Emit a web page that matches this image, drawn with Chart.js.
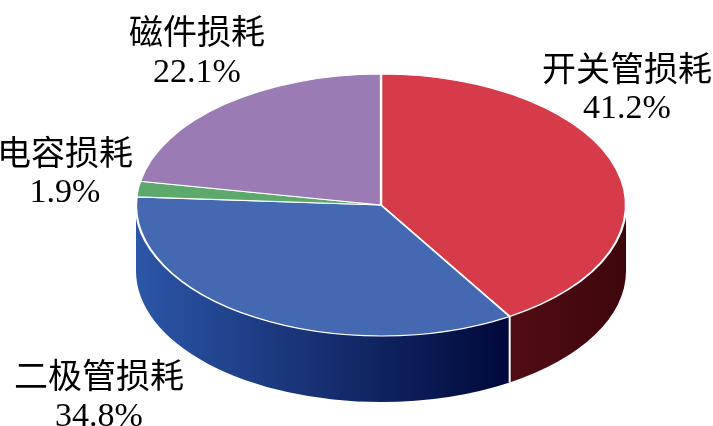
<!DOCTYPE html>
<html lang="zh">
<head>
  <meta charset="UTF-8">
  <title>损耗分布</title>
  <script src="https://cdn.jsdelivr.net/npm/chart.js"></script>
  <style>
    html, body { margin: 0; padding: 0; background: #fff; }
    #wrap { width: 713px; height: 426px; position: relative; }
  </style>
</head>
<body>
  <div id="wrap"><canvas id="pieChart"></canvas></div>

  <script>
    // 数据（顺时针，从12点方向开始）
    const categories = ['开关管损耗', '二极管损耗', '电容损耗', '磁件损耗'];
    const values = [41.2, 34.8, 1.9, 22.1];
    const topColors = ['#D63B4A', '#4568B3', '#5DA96C', '#9A7BB4'];
    const sideColors = [['#520C14', '#3E060C'], ['#2C56A8', '#00083A'], ['#3C7A48', '#2A5A34'], ['#6E5488', '#554070']];

    // 椭圆位置（屏幕坐标）
    const CX = 381, CY = 205, RX = 245, RY = 131, DEPTH = 66;

    // 标签位置
    const labelPos = [
      { x: 627, y: 68, py: 118 },
      { x: 99, y: 375, py: 426 },
      { x: 65, y: 152, py: 202 },
      { x: 197, y: 31, py: 82 }
    ];

    const pie3d = {
      id: 'pie3d',
      beforeDatasetsDraw(chart) {
        const ctx = chart.ctx;
        const arcs = chart.getDatasetMeta(0).data;
        // 侧面
        arcs.forEach((arc, i) => {
          const a = Math.max(arc.startAngle, 0);
          const b = Math.min(arc.endAngle, Math.PI);
          if (b <= a) return;
          const x1 = CX + RX * Math.cos(b), x2 = CX + RX * Math.cos(a);
          const g = ctx.createLinearGradient(Math.min(x1, x2), 0, Math.max(x1, x2), 0);
          g.addColorStop(0, sideColors[i][0]);
          g.addColorStop(1, sideColors[i][1]);
          ctx.beginPath();
          ctx.ellipse(CX, CY, RX, RY, 0, a, b);
          ctx.ellipse(CX, CY + DEPTH, RX, RY, 0, b, a, true);
          ctx.closePath();
          ctx.fillStyle = g;
          ctx.fill();
        });
        // 侧面分界线
        arcs.forEach(arc => {
          const t = arc.endAngle;
          if (t > 0 && t < Math.PI) {
            const x = CX + RX * Math.cos(t), y = CY + RY * Math.sin(t);
            ctx.beginPath();
            ctx.moveTo(x, y);
            ctx.lineTo(x, y + DEPTH);
            ctx.strokeStyle = '#ffffff';
            ctx.lineWidth = 2;
            ctx.stroke();
          }
        });
        // 顶面压扁成椭圆
        const a0 = arcs[0];
        ctx.save();
        ctx.translate(CX, CY);
        ctx.scale(RX / a0.outerRadius, RY / a0.outerRadius);
        ctx.translate(-a0.x, -a0.y);
      },
      afterDatasetsDraw(chart) {
        chart.ctx.restore();
      },
      afterDraw(chart) {
        const ctx = chart.ctx;
        ctx.save();
        ctx.fillStyle = '#000';
        ctx.textAlign = 'center';
        categories.forEach((c, i) => {
          const p = labelPos[i];
          ctx.font = '34px "Noto Sans CJK SC"';
          ctx.textBaseline = 'middle';
          ctx.fillText(c, p.x, p.y);
          ctx.font = '34px "Liberation Serif"';
          ctx.textBaseline = 'alphabetic';
          ctx.fillText(values[i].toFixed(1) + '%', p.x, p.py);
        });
        ctx.restore();
      }
    };

    new Chart(document.getElementById('pieChart'), {
      type: 'pie',
      data: {
        labels: categories,
        datasets: [{
          data: values,
          backgroundColor: topColors,
          borderColor: '#ffffff',
          borderWidth: 2,
          hoverOffset: 0,
          clip: false
        }]
      },
      options: {
        responsive: true,
        maintainAspectRatio: false,
        animation: false,
        events: [],
        plugins: {
          legend: { display: false },
          tooltip: { enabled: false }
        }
      },
      plugins: [pie3d]
    });
  </script>
</body>
</html>
